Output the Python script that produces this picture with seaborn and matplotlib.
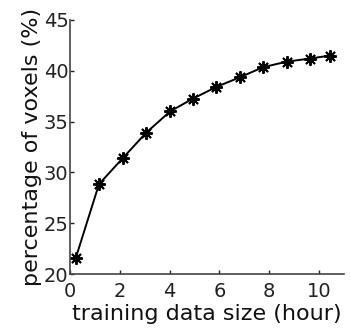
import pandas as pd
import matplotlib
matplotlib.use('Agg')
import matplotlib.pyplot as plt
import seaborn as sns

# valores
horas = [0.24, 1.17, 2.14, 3.06, 4.02, 4.93, 5.87, 6.81, 7.75, 8.70, 9.62, 10.44]
percentual = [21.6, 28.85, 31.45, 33.9, 36.0, 37.25, 38.4, 39.35, 40.35, 40.9, 41.2, 41.5]

df = pd.DataFrame({'horas': horas, 'percentual': percentual})

sns.set_style('ticks')
plt.rcParams['font.family'] = ['DejaVu Sans']

fig = plt.figure(figsize=(3.51, 3.33), dpi=100)
ax = fig.add_axes([0.199, 0.177, 0.781, 0.763])

sns.lineplot(data=df, x='horas', y='percentual', ax=ax, color='black',
             linewidth=1.4, marker=(8, 2, 0), markersize=9,
             markeredgewidth=1.4, markeredgecolor='black')

ax.set_xlim(0, 11)
ax.set_ylim(20, 45)
ax.set_xticks([0, 2, 4, 6, 8, 10])
ax.set_yticks([20, 25, 30, 35, 40, 45])
ax.tick_params(direction='in', length=3, width=1, labelsize=14, colors='#222222')
ax.tick_params(axis='x', pad=6)
ax.tick_params(axis='y', pad=1)
for s in ['left', 'bottom']:
    ax.spines[s].set_linewidth(1.2)
    ax.spines[s].set_color('#444444')
sns.despine(ax=ax)

ax.set_xlabel('training data size (hour)', fontsize=16, labelpad=2, color='#111111')
ax.set_ylabel('percentage of voxels (%)', fontsize=16, labelpad=1, color='#111111')

fig.savefig('out.png', dpi=100)
